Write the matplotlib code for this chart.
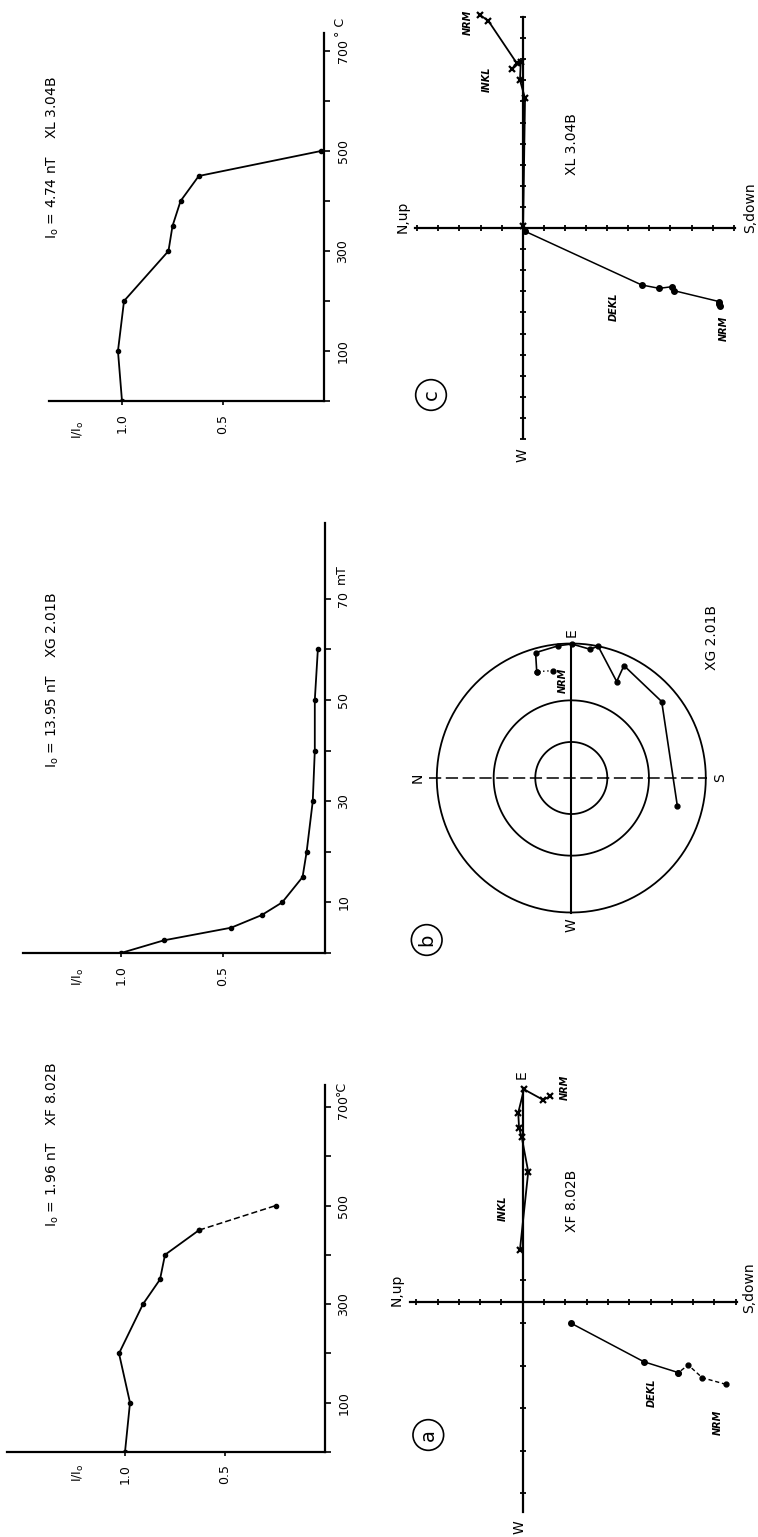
import numpy as np
import matplotlib
matplotlib.use("Agg")
import matplotlib.pyplot as plt

# ------------------------------------------------------------------ data
# intensity decay curves  (I/Io versus demagnetising step)
temp_a = [0, 100, 200, 300, 350, 400, 450, 500]
ratio_a = [1.00, 0.975, 1.03, 0.91, 0.825, 0.80, 0.63, 0.245]
field_b = [0, 2.5, 5, 7.5, 10, 15, 20, 30, 40, 50, 60]
ratio_b = [1.00, 0.79, 0.46, 0.31, 0.21, 0.11, 0.09, 0.06, 0.05, 0.05, 0.035]
temp_c = [0, 100, 200, 300, 350, 400, 450, 500]
ratio_c = [1.00, 1.02, 0.99, 0.77, 0.75, 0.71, 0.62, 0.015]

temp_ticks = [0, 100, 200, 300, 400, 500, 600, 700]
temp_labels = ["", "100", "", "300", "", "500", "", "700"]
field_ticks = [0, 10, 20, 30, 40, 50, 60, 70]
field_labels = ["", "10", "", "30", "", "50", "", "70"]
ratio_ticks = [1.0, 0.5]
ratio_labels = ["1.0", "0.5"]

titles = ["I$_\\mathregular{o}$ = 1.96 nT    XF 8.02B",
          "I$_\\mathregular{o}$ = 13.95 nT    XG 2.01B",
          "I$_\\mathregular{o}$ = 4.74 nT    XL 3.04B"]

# Zijderveld diagrams (axis units; s = N,up->S,down axis, e = W->E axis)
dekl_a_s = [9.54, 8.43, 7.77, 7.31, 5.69, 2.27]
dekl_a_e = [-3.88, -3.57, -2.97, -3.33, -2.82, -1.01]
inkl_a_s = [1.28, 0.97, 0.06, -0.21, -0.17, -0.05, 0.26, -0.13]
inkl_a_e = [9.65, 9.47, 9.97, 8.87, 8.14, 7.75, 6.10, 2.43]

dekl_c_s = [9.35, 9.30, 9.32, 7.17, 7.09, 6.47, 5.64, 0.10]
dekl_c_e = [-3.72, -3.60, -3.49, -2.97, -2.78, -2.86, -2.70, -0.15]
inkl_c_s = [-2.02, -1.63, -0.28, -0.52, -0.09, -0.13, 0.11, 0.02]
inkl_c_e = [10.09, 9.82, 7.81, 7.52, 7.88, 7.01, 6.15, 0.10]

# stereographic plot (b): declination / inclination in degrees
dec_b = [80.2, 72.0, 74.1, 84.4, 90.2, 98.3, 101.5, 115.2, 115.1, 139.8, 194.8]
inc_b = [12.0, 10.5, 1.8, 0.7, 0.2, 1.9, 0.0, 13.2, 4.6, 7.3, 11.6]
net_incs = [0, 30, 60]

# ------------------------------------------------------------------ figure
W, H = 758, 1537
fig = plt.figure(figsize=(W / 100, H / 100), dpi=100)
plt.rcParams["font.family"] = ["DejaVu Sans"]


def ftext(x, y, s, size=10, rot=90, **kw):
    kw.setdefault("ha", "center")
    kw.setdefault("va", "center")
    fig.text(x / W, 1 - y / H, s, fontsize=size, rotation=rot, **kw)


def curve_panel(x0, y0, px_r, px_v, r_max, v_max, vals, ratios, vticks,
                vlabels, unit, unit_off, dashed_last=False):
    left = x0 - r_max * px_r
    top = y0 - v_max * px_v
    ax = fig.add_axes([left / W, 1 - y0 / H, (x0 - left) / W, (y0 - top) / H])
    ax.set_xlim(r_max, 0)
    ax.set_ylim(0, v_max)
    ax.patch.set_alpha(0)
    for s in ("left", "top"):
        ax.spines[s].set_visible(False)
    for s in ("right", "bottom"):
        ax.spines[s].set_linewidth(1.6)
    ax.yaxis.tick_right()
    ax.set_yticks(vticks)
    ax.set_yticklabels(vlabels, rotation=90, va="center", fontsize=9)
    ax.tick_params(axis="y", direction="out", length=4, width=1.2, pad=5)
    ax.set_xticks(ratio_ticks)
    ax.set_xticklabels(ratio_labels, rotation=90, fontsize=9)
    ax.tick_params(axis="x", direction="out", length=3, width=1.2, pad=6)
    if dashed_last:
        ax.plot(ratios[:-1], vals[:-1], "k-", lw=1.3, marker="o", ms=3)
        ax.plot(ratios[-2:], vals[-2:], "k-", lw=1.1, marker="o", ms=3,
                dashes=(4, 2))
    else:
        ax.plot(ratios, vals, "k-", lw=1.3, marker="o", ms=3)
    ax.annotate(unit, xy=(1, vticks[-1]), xycoords=ax.get_yaxis_transform(),
                xytext=(7, unit_off), textcoords="offset points", rotation=90,
                ha="left", va="bottom", fontsize=9)
    return ax


# curves
curve_panel(325, 1452, 200, 0.493, 1.59, 745, temp_a, ratio_a, temp_ticks,
            temp_labels, "°C", 8, dashed_last=True)
curve_panel(325, 953, 204, 5.06, 1.48, 85, field_b, ratio_b, field_ticks,
            field_labels, "mT", 11)
curve_panel(324, 401, 202, 0.5, 1.36, 736, temp_c, ratio_c, temp_ticks,
            temp_labels, "° C", 10)

ftext(53, 1145, titles[0], size=10)
ftext(53, 680, titles[1], size=10)
ftext(53, 157, titles[2], size=10)
for yy in (1473, 977, 430):
    ftext(78, yy, "I/I$_\\mathregular{o}$", size=9)


# Zijderveld panels
def zijd_panel(ox, oy, unit, xlim, ylim, hext, vext, hticks, vticks):
    ax = fig.add_axes([(ox + xlim[0] * unit) / W, 1 - (oy - ylim[0] * unit) / H,
                       (xlim[1] - xlim[0]) * unit / W,
                       (ylim[1] - ylim[0]) * unit / H])
    ax.set_xlim(xlim)
    ax.set_ylim(ylim)
    ax.axis("off")
    ax.plot(hext, [0, 0], "k-", lw=1.6)
    ax.plot([0, 0], vext, "k-", lw=1.6)
    ax.plot(hticks, np.zeros(len(hticks)), ls="none", marker="|", ms=4,
            mew=1.3, color="k")
    ax.plot(np.zeros(len(vticks)), vticks, ls="none", marker="_", ms=4,
            mew=1.3, color="k")
    return ax


h_ticks = [-5, -4, -3, -2, -1, 1, 2, 3, 4, 5, 6, 7, 8, 9, 10]

# panel a
axa = zijd_panel(522.7, 1301.7, 21.3, (-6.8, 11.3), (-11.0, 10.9),
                 [-5.3, 10.05], [-9.86, 10.03], h_ticks,
                 [-9, -7, -5, -3, -1, 1])
axa.plot(dekl_a_s[:4], dekl_a_e[:4], "k-", lw=1.0, dashes=(3, 2),
         marker="o", ms=3.5)
axa.plot(dekl_a_s[3:], dekl_a_e[3:], "k-", lw=1.1, marker="o", ms=4)
axa.plot(inkl_a_s, inkl_a_e, "k-", lw=1.3, marker="x", ms=4.5, mew=1.6)

ftext(521.7, 1075, "E", size=10)
ftext(520, 1527, "W", size=10)
ftext(397, 1290, "N,up", size=10)
ftext(749, 1288, "S,down", size=10)
ftext(565, 1087, "NRM", size=7, style="italic", weight="bold")
ftext(503, 1208, "INKL", size=7, style="italic", weight="bold")
ftext(652, 1393, "DEKL", size=7, style="italic", weight="bold")
ftext(718, 1422, "NRM", size=7, style="italic", weight="bold")
ftext(572, 1201, "XF 8.02B", size=10)

# panel c
axc = zijd_panel(522.7, 228, 21.1, (-6.8, 11.3), (-11.0, 10.7),
                 [-5.1, 10.07], [-9.95, 10.0], h_ticks,
                 [v for v in range(-10, 11) if v != 0])
axc.plot(dekl_c_s, dekl_c_e, "k-", lw=1.1, marker="o", ms=4)
axc.plot(inkl_c_s, inkl_c_e, "k-", lw=1.3, marker="x", ms=4.5, mew=1.6)

ftext(522.7, 455, "W", size=10)
ftext(403, 217, "N,up", size=10)
ftext(750, 208, "S,down", size=10)
ftext(468, 22, "NRM", size=7, style="italic", weight="bold")
ftext(487, 79, "INKL", size=7, style="italic", weight="bold")
ftext(614, 307, "DEKL", size=7, style="italic", weight="bold")
ftext(724, 328, "NRM", size=7, style="italic", weight="bold")
ftext(571.5, 144, "XL 3.04B", size=10)

# panel b : stereographic net
R_px = 134.5
cx, cy = 571.3, 778
lim = 1.25
axb = fig.add_axes([(cx - lim * R_px) / W, 1 - (cy + lim * R_px) / H,
                    2 * lim * R_px / W, 2 * lim * R_px / H])
axb.set_xlim(-lim, lim)
axb.set_ylim(-lim, lim)
axb.axis("off")
theta = np.linspace(0, 2 * np.pi, 400)
for inc in net_incs:
    rr = np.tan(np.radians(90 - inc) / 2)
    axb.plot(rr * np.cos(theta), rr * np.sin(theta), "k-", lw=1.3)
axb.plot([0, 0], [-1, 1], "k-", lw=1.5)
axb.plot([-1.06, 1.0], [0, 0], "k-", lw=1.1, dashes=(8, 3))

r_b = np.tan(np.radians(90 - np.asarray(inc_b)) / 2)
xb = -r_b * np.cos(np.radians(dec_b))
yb = r_b * np.sin(np.radians(dec_b))
axb.plot(xb[:2], yb[:2], "k-", lw=1.0, dashes=(1, 2), marker="o", ms=3.5)
axb.plot(xb[1:], yb[1:], "k-", lw=1.2, marker="o", ms=3.5)

ftext(418, 778, "N", size=10)
ftext(720, 778, "S", size=10)
ftext(571.7, 925, "W", size=10)
ftext(571.7, 633, "E", size=10)
ftext(562.5, 680, "NRM", size=7, style="italic", weight="bold")
ftext(711.5, 638, "XG 2.01B", size=10)

# circled panel letters
for (lx, ly, lt) in [(428.3, 1435, "a"), (426.7, 940, "b"), (431, 395, "c")]:
    ftext(lx, ly, lt, size=14,
          bbox=dict(boxstyle="circle,pad=0.3", fc="none", ec="k", lw=1.2))

fig.savefig("out.png", dpi=100)
